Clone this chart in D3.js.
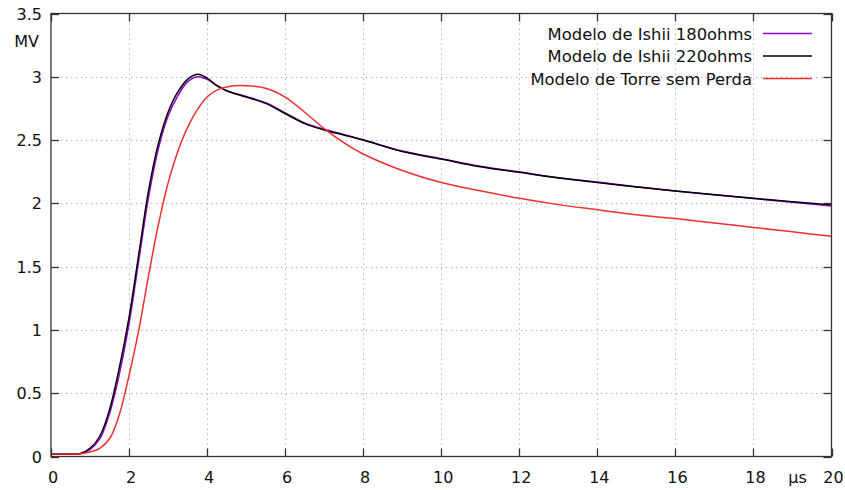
<!DOCTYPE html>
<html>
<head>
<meta charset="utf-8">
<title>Modelo de Ishii vs Torre sem Perda</title>
<script src="https://d3js.org/d3.v7.min.js"></script>
<style>
  html, body { margin: 0; padding: 0; background: #fff; }
  text { font-family: "DejaVu Sans", Verdana, sans-serif; font-size: 16px; fill: #111; }
</style>
</head>
<body>
<script>
// time axis (µs) and the three voltage series (MV)
const tempo = [0, 0.5, 0.75, 1, 1.25, 1.5, 1.75, 2, 2.25, 2.5, 2.75, 3, 3.25, 3.5, 3.75,
               4, 4.25, 4.5, 5, 5.5, 6, 6.5, 7, 7.5, 8, 9, 10, 11, 12, 13, 14, 15, 16, 17, 18, 19, 20];
const ishii180 = [0.02, 0.02, 0.022, 0.055, 0.14, 0.34, 0.65, 1.05, 1.55, 2.05, 2.43, 2.69, 2.85, 2.96, 3.0,
                  2.98, 2.93, 2.89, 2.845, 2.795, 2.715, 2.635, 2.585, 2.545, 2.503, 2.413, 2.353, 2.293, 2.248, 2.203, 2.168, 2.132, 2.098, 2.068, 2.038, 2.008, 1.98];
const ishii220 = [0.02, 0.02, 0.024, 0.065, 0.16, 0.37, 0.70, 1.10, 1.60, 2.1, 2.47, 2.72, 2.88, 2.98, 3.02,
                  2.99, 2.93, 2.89, 2.84, 2.79, 2.71, 2.63, 2.58, 2.54, 2.5, 2.41, 2.35, 2.29, 2.245, 2.2, 2.165, 2.13, 2.097, 2.068, 2.04, 2.012, 1.988];
const torre = [0.02, 0.02, 0.022, 0.035, 0.065, 0.14, 0.33, 0.64, 1.0, 1.43, 1.83, 2.16, 2.41, 2.6, 2.74,
               2.84, 2.895, 2.92, 2.93, 2.91, 2.84, 2.72, 2.59, 2.48, 2.39, 2.26, 2.165, 2.1, 2.04, 1.99, 1.95, 1.91, 1.88, 1.845, 1.81, 1.775, 1.74];

const xTicks = [0, 2, 4, 6, 8, 10, 12, 14, 16, 18, 20];
const yTicks = [0, 0.5, 1, 1.5, 2, 2.5, 3, 3.5];
const legendNames = ["Modelo de Ishii 180ohms", "Modelo de Ishii 220ohms", "Modelo de Torre sem Perda"];
const colors = ["#9400d3", "#000000", "#f03030"];

const width = 845, height = 490;
const plotLeft = 51, plotRight = 831.5, plotTop = 13.5, plotBottom = 456.5;

const svg = d3.select("body").append("svg")
    .attr("width", width)
    .attr("height", height);

const x = d3.scaleLinear().domain([0, 20]).range([plotLeft, plotRight]);
const y = d3.scaleLinear().domain([0, 3.5]).range([plotBottom, plotTop]);

// dotted grid
const grid = svg.append("g")
    .attr("stroke", "#a8a8a8")
    .attr("stroke-width", 1)
    .attr("stroke-dasharray", "1.2,3.8");
grid.selectAll(".gx").data(xTicks.slice(1, -1)).enter().append("line")
    .attr("x1", d => Math.round(x(d)) + 0.5).attr("x2", d => Math.round(x(d)) + 0.5)
    .attr("y1", plotTop).attr("y2", plotBottom);
grid.selectAll(".gy").data(yTicks.slice(1, -1)).enter().append("line")
    .attr("y1", d => Math.round(y(d)) + 0.5).attr("y2", d => Math.round(y(d)) + 0.5)
    .attr("x1", plotLeft).attr("x2", plotRight);

// ticks on all four sides, pointing inward
const tk = svg.append("g").attr("stroke", "#333").attr("stroke-width", 1.3);
xTicks.forEach(d => {
    const px = Math.round(x(d)) + 0.5;
    tk.append("line").attr("x1", px).attr("x2", px).attr("y1", plotBottom).attr("y2", plotBottom - 8);
    tk.append("line").attr("x1", px).attr("x2", px).attr("y1", plotTop).attr("y2", plotTop + 8);
});
yTicks.forEach(d => {
    const py = Math.round(y(d)) + 0.5;
    tk.append("line").attr("y1", py).attr("y2", py).attr("x1", plotLeft).attr("x2", plotLeft + 8);
    tk.append("line").attr("y1", py).attr("y2", py).attr("x1", plotRight).attr("x2", plotRight - 8);
});

// tick labels
svg.selectAll(".xl").data(xTicks).enter().append("text")
    .attr("x", d => x(d) + 2)
    .attr("y", 483)
    .attr("text-anchor", "middle")
    .text(d => d);
svg.append("text").attr("x", x(19) + 5).attr("y", 483).attr("text-anchor", "middle").text("μs");

svg.selectAll(".yl").data(yTicks).enter().append("text")
    .attr("x", 42)
    .attr("y", d => y(d) + 6)
    .attr("text-anchor", "end")
    .text(d => d);
svg.append("text").attr("x", 39).attr("y", 47).attr("text-anchor", "end").text("MV");

// curves
const line = d3.line()
    .x((d, i) => x(tempo[i]))
    .y(d => y(d))
    .curve(d3.curveCatmullRom.alpha(0.5));

[ishii180, ishii220, torre].forEach((serie, i) => {
    svg.append("path")
        .attr("d", line(serie))
        .attr("fill", "none")
        .attr("stroke", colors[i])
        .attr("stroke-width", 1.5);
});

// legend
legendNames.forEach((name, i) => {
    const ly = 33.5 + i * 22.5;
    svg.append("text").attr("x", 752).attr("y", ly + 6)
        .attr("text-anchor", "end")
        .style("font-size", "16.4px")
        .text(name);
    svg.append("line")
        .attr("x1", 763).attr("x2", 812)
        .attr("y1", ly).attr("y2", ly)
        .attr("stroke", colors[i]).attr("stroke-width", 1.5);
});

// frame
svg.append("rect")
    .attr("x", plotLeft).attr("y", plotTop)
    .attr("width", plotRight - plotLeft).attr("height", plotBottom - plotTop)
    .attr("fill", "none")
    .attr("stroke", "#333")
    .attr("stroke-width", 1.3);
</script>
</body>
</html>
